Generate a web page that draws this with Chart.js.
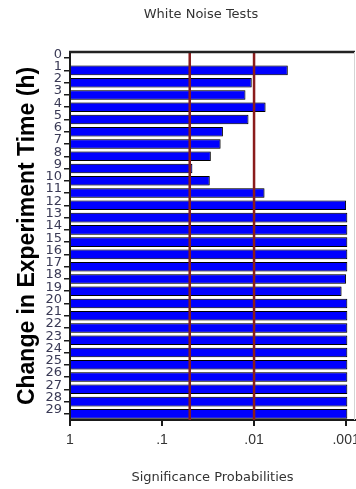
<!DOCTYPE html>
<html>
<head>
<meta charset="utf-8">
<script src="https://cdn.jsdelivr.net/npm/chart.js@4/dist/chart.umd.min.js"></script>
<style>
  html, body { margin: 0; padding: 0; background: #fff; }
  #wrap { width: 356px; height: 489px; position: relative; }
</style>
</head>
<body>
<div id="wrap"><canvas id="c"></canvas></div>
<script>
// Hours since the start of the experiment
const hours = ['0','1','2','3','4','5','6','7','8','9','10','11','12','13','14','15','16','17','18','19','20','21','22','23','24','25','26','27','28','29'];
// Significance probability of the white noise test for each hour
const probabilities = [null, 0.0043, 0.0106, 0.0124, 0.0075, 0.0115, 0.0218, 0.0231, 0.0295, 0.0468, 0.0303, 0.0077,
  0.0010, 0.00097, 0.00097, 0.00097, 0.00097, 0.00097, 0.0010, 0.00112,
  0.00097, 0.00097, 0.00097, 0.00097, 0.00097, 0.00097, 0.00097, 0.00097, 0.00097, 0.00097];
// Reference significance levels
const alphaLevels = [0.05, 0.01];
// Axis ticks on the probability scale
const xTickValues = [1, 0.1, 0.01, 0.001];
const xTickLabels = ['1', '.1', '.01', '.001'];

const chartTitle = 'White Noise Tests';
const xTitle = 'Significance Probabilities';
const yTitle = 'Change in Experiment Time (h)';

Chart.defaults.font.family = '"DejaVu Sans", sans-serif';

const frameAndLines = {
  id: 'frameAndLines',
  beforeDatasetsDraw(chart) {
    // soft grey halo around each bar
    const ctx = chart.ctx;
    ctx.save();
    ctx.shadowColor = 'rgba(0,0,0,0.3)';
    ctx.shadowBlur = 1.5;
  },
  afterDatasetsDraw(chart) {
    const ctx = chart.ctx;
    ctx.restore();
    const { top, bottom, left, right } = chart.chartArea;
    const x = chart.scales.x;
    ctx.save();
    // significance level markers
    ctx.strokeStyle = '#8b1c1c';
    ctx.lineWidth = 2.5;
    alphaLevels.forEach(a => {
      const px = x.getPixelForValue(a);
      ctx.beginPath();
      ctx.moveTo(px, top);
      ctx.lineTo(px, bottom);
      ctx.stroke();
    });
    // top and right edges of the plot frame
    ctx.strokeStyle = '#222';
    ctx.lineWidth = 2.5;
    ctx.beginPath();
    ctx.moveTo(left - 1, top);
    ctx.lineTo(right, top);
    ctx.stroke();
    ctx.strokeStyle = '#d4d4d4';
    ctx.lineWidth = 1;
    ctx.beginPath();
    ctx.moveTo(right - 0.5, top);
    ctx.lineTo(right - 0.5, bottom);
    ctx.stroke();
    ctx.restore();
  },
  afterDraw(chart) {
    const ctx = chart.ctx;
    ctx.save();
    ctx.font = '13px "DejaVu Sans"';
    ctx.fillStyle = '#333';
    ctx.textAlign = 'center';
    ctx.textBaseline = 'middle';
    ctx.fillText(chartTitle, 201, 15);
    ctx.restore();
  }
};

new Chart(document.getElementById('c'), {
  type: 'bar',
  data: {
    labels: hours,
    datasets: [{
      data: probabilities,
      base: 1,
      backgroundColor: '#0000ff',
      borderColor: '#000',
      borderWidth: 1,
      barPercentage: 0.78,
      categoryPercentage: 1
    }]
  },
  options: {
    indexAxis: 'y',
    responsive: true,
    maintainAspectRatio: false,
    animation: false,
    layout: { padding: { top: 52, right: 1, left: 0, bottom: 0 } },
    plugins: { legend: { display: false }, tooltip: { enabled: false }, title: { display: false } },
    scales: {
      x: {
        type: 'logarithmic',
        reverse: true,
        min: 0.0008,
        max: 1,
        position: 'bottom',
        afterBuildTicks(scale) { scale.ticks = xTickValues.map(v => ({ value: v })); },
        afterFit(scale) { scale.height = 69; scale.paddingLeft = 0; scale.paddingRight = 0; },
        border: { display: true, color: '#1a1a1a', width: 2 },
        grid: { display: true, drawOnChartArea: false, drawTicks: true, tickLength: 6, color: '#1a1a1a', lineWidth: 2 },
        ticks: {
          autoSkip: false,
          maxRotation: 0,
          padding: 6,
          color: '#333',
          font: { family: '"Liberation Sans", Arial, sans-serif', size: 14 },
          callback(value) {
            const i = xTickValues.findIndex(v => Math.abs(v - value) < v * 1e-6);
            return i >= 0 ? xTickLabels[i] : '';
          }
        },
        title: { display: true, text: xTitle, color: '#333', font: { size: 13 }, padding: { top: 0, bottom: 4 } }
      },
      y: {
        type: 'category',
        afterFit(scale) { scale.width = 70; scale.paddingTop = 0; scale.paddingBottom = 0; },
        border: { display: true, color: '#1a1a1a', width: 2 },
        grid: { display: true, offset: false, drawOnChartArea: false, drawTicks: true, tickLength: 6, color: '#1a1a1a', lineWidth: 1.5 },
        ticks: { autoSkip: false, padding: 2, labelOffset: -4, color: '#3a3a55', font: { size: 13 } },
        title: { display: true, text: yTitle, color: '#000', font: { family: '"Liberation Sans", Arial, sans-serif', size: 23, weight: 'bold' }, padding: { top: 14, bottom: 0 } }
      }
    }
  },
  plugins: [frameAndLines]
});
</script>
</body>
</html>
